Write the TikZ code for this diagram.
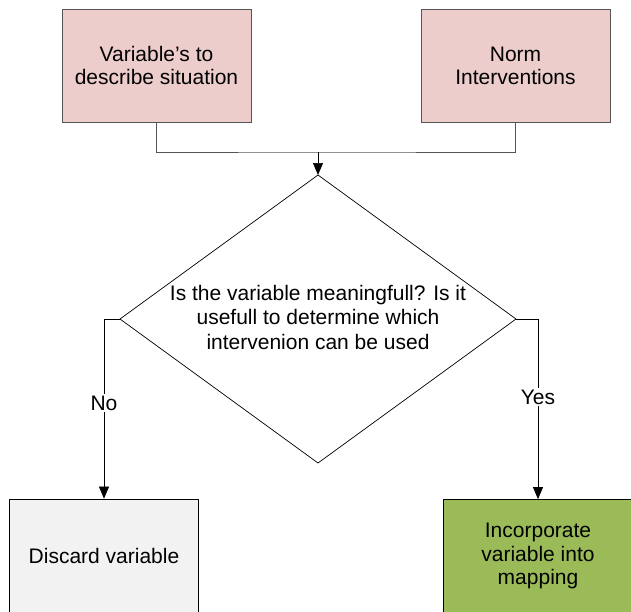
\documentclass[tikz,border=0pt]{standalone}
\usepackage{fontspec}
\setmainfont{Liberation Sans}
\usetikzlibrary{arrows.meta}
\definecolor{pinkfill}{HTML}{EDCCCC}
\definecolor{greyfill}{HTML}{F2F2F2}
\definecolor{greenfill}{HTML}{9BBB59}
\definecolor{edgegrey}{HTML}{555555}
\tikzset{
  box/.style={draw=edgegrey, line width=0.8pt, minimum width=189pt, minimum height=113pt,
    align=center, inner sep=2pt, font=\fontsize{21}{23.5}\selectfont},
  dectext/.style={inner sep=0pt, align=center, font=\fontsize{21}{24.5}\selectfont},
  decshape/.style={draw=black, line width=0.7pt, fill=white},
  conn/.style={draw=black, line width=0.7pt},
  arr/.style={conn, -{Triangle[length=12pt,width=10pt]}},
  lbl/.style={fill=white, inner sep=1.5pt, font=\fontsize{21}{23}\selectfont}
}
\begin{document}
\begin{tikzpicture}[x=1pt,y=-1pt]
\clip (0,0) rectangle (631,611);
\fill[white] (0,0) rectangle (631,611);
\node[box, fill=pinkfill] (b1) at (156.5,65.5) {Variable’s to\\describe situation};
\node[box, fill=pinkfill] (b2) at (515.5,66) {Norm\\Interventions};
\coordinate (dt) at (318,175);
\coordinate (dl) at (120,319);
\coordinate (dr) at (516,319);
\coordinate (db) at (318,463);
\draw[decshape] (dt) -- (dr) -- (db) -- (dl) -- cycle;
\node[dectext] (d) at (318,317) {Is the variable meaningfull? Is it\\usefull to determine which\\intervenion can be used};
\node[box, fill=greyfill, draw=black] (no) at (104,555.5) {Discard variable};
\node[box, fill=greenfill, draw=black] (yes) at (538,556) {Incorporate\\variable into\\mapping};
\coordinate (j) at (318,152);
\draw[conn, draw=edgegrey] (b1.south) |- (j) -| (b2.south);
\draw[arr] (j) -- (dt);
\draw[arr] (dl) -| (no.north);
\draw[arr] (dr) -| (yes.north);
\node[lbl] (nolbl) at (104,403) {No};
\node[lbl] (yeslbl) at (538,397) {Yes};
\end{tikzpicture}
\end{document}
